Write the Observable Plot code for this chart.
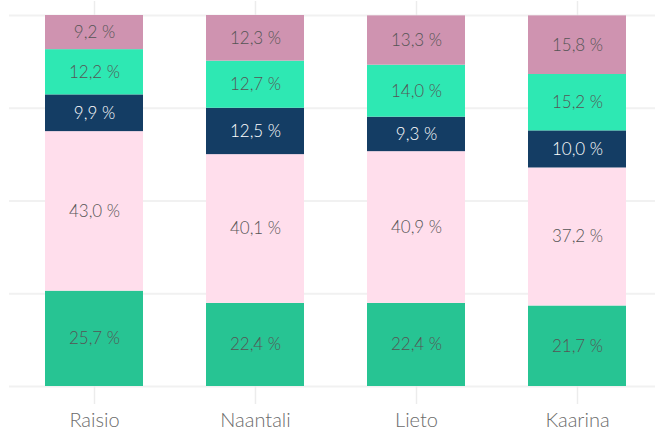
<!DOCTYPE html>
<html>
<head>
<meta charset="utf-8">
<script src="https://cdn.jsdelivr.net/npm/d3@7"></script>
<script src="https://cdn.jsdelivr.net/npm/@observablehq/plot@0.6"></script>
<style>
  html, body { margin: 0; padding: 0; background: #fff; }
  #chart svg { display: block; font-family: Lato, "Noto Sans", sans-serif; }
</style>
</head>
<body>
<div id="chart"></div>
<script>
const cities = ["Raisio", "Naantali", "Lieto", "Kaarina"];
const series = ["Ryhmä 1", "Ryhmä 2", "Ryhmä 3", "Ryhmä 4", "Ryhmä 5"];
const colors = ["#27c493", "#ffdeec", "#143d64", "#2ee8b3", "#cf93b0"];
const values = {
  "Ryhmä 1": [25.7, 22.4, 22.4, 21.7],
  "Ryhmä 2": [43.0, 40.1, 40.9, 37.2],
  "Ryhmä 3": [9.9, 12.5, 9.3, 10.0],
  "Ryhmä 4": [12.2, 12.7, 14.0, 15.2],
  "Ryhmä 5": [9.2, 12.3, 13.3, 15.8]
};
const gridTicks = [0, 25, 50, 75, 100];

const data = [];
series.forEach(s => cities.forEach((c, i) => data.push({city: c, series: s, value: values[s][i]})));
const fmt = v => v.toFixed(1).replace(".", ",") + " %";
const isDark = d => d.series === "Ryhmä 3";

const chart = Plot.plot({
  width: 658,
  height: 430,
  marginTop: 15,
  marginBottom: 44,
  marginLeft: 9,
  marginRight: 3,
  x: {domain: cities, paddingInner: 0.394, paddingOuter: 0.195, align: 0.556, label: null},
  y: {domain: [0, 100], axis: null},
  color: {domain: series, range: colors},
  marks: [
    Plot.ruleY(gridTicks, {stroke: "#f1f1f1", strokeWidth: 2}),
    Plot.axisX({anchor: "bottom", tickSize: 18, tickPadding: 8, stroke: "#ececec", strokeWidth: 1.5, fontSize: 20, color: "#6b6b6b", fontWeight: 300, label: null}),
    Plot.axisX({anchor: "top", tickSize: 15, stroke: "#ececec", strokeWidth: 1.5, tickFormat: () => "", label: null}),
    Plot.barY(data, {x: "city", y: "value", fill: "series", order: series}),
    Plot.text(data, Plot.stackY({
      x: "city", y: "value", z: "series", order: series,
      text: d => isDark(d) ? "" : fmt(d.value),
      fill: "#555555",
      fontSize: 17, fontWeight: 300
    })),
    Plot.text(data, Plot.stackY({
      x: "city", y: "value", z: "series", order: series,
      text: d => isDark(d) ? fmt(d.value) : "",
      fill: "#ffffff",
      fontSize: 17, fontWeight: 300
    }))
  ]
});
document.getElementById("chart").append(chart);
</script>
</body>
</html>
